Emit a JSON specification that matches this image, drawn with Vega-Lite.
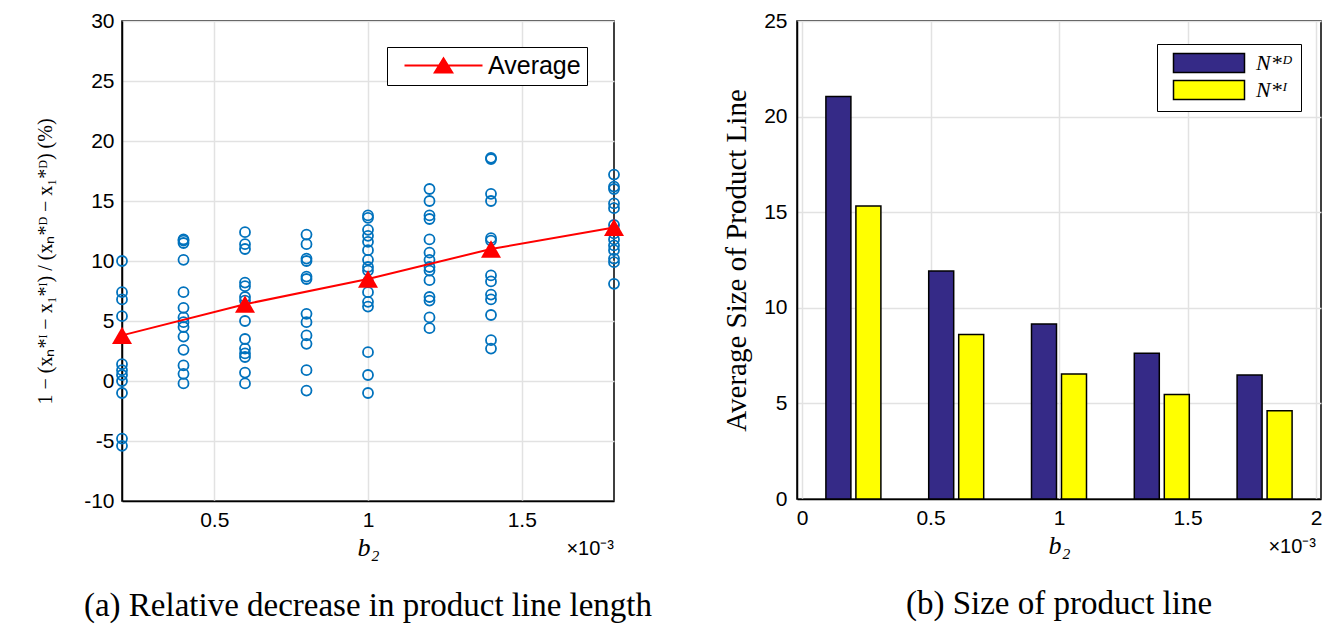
{
  "$schema": "https://vega.github.io/schema/vega-lite/v6.json",
  "background": "white",
  "padding": {"top": 9, "left": 34, "right": 0, "bottom": 0},
  "spacing": 64,
  "config": {
    "view": {"stroke": "black", "strokeWidth": 1.5},
    "axis": {
      "domainColor": "black", "domainWidth": 1.5,
      "gridColor": "#e2e2e2", "gridWidth": 1.5,
      "labelFont": "Liberation Sans", "labelFontSize": 21, "labelColor": "black",
      "titleFont": "Liberation Serif", "titleColor": "black", "titleFontWeight": "normal",
      "ticks": false, "labelFlush": false, "labelOverlap": false
    }
  },
  "resolve": {"scale": {"color": "independent"}, "legend": {"color": "independent"}},
  "datasets": {
    "scatter": [
      {"b2": 0.2, "v": 10.0}, {"b2": 0.2, "v": 7.4}, {"b2": 0.2, "v": 6.8}, {"b2": 0.2, "v": 5.4}, {"b2": 0.2, "v": 1.4}, {"b2": 0.2, "v": 0.9}, {"b2": 0.2, "v": 0.5}, {"b2": 0.2, "v": 0.0}, {"b2": 0.2, "v": -1.0}, {"b2": 0.2, "v": -4.8}, {"b2": 0.2, "v": -5.4},
      {"b2": 0.4, "v": 11.8}, {"b2": 0.4, "v": 11.7}, {"b2": 0.4, "v": 11.5}, {"b2": 0.4, "v": 10.1}, {"b2": 0.4, "v": 7.4}, {"b2": 0.4, "v": 6.1}, {"b2": 0.4, "v": 5.3}, {"b2": 0.4, "v": 4.9}, {"b2": 0.4, "v": 4.5}, {"b2": 0.4, "v": 3.7}, {"b2": 0.4, "v": 2.6}, {"b2": 0.4, "v": 1.3}, {"b2": 0.4, "v": 0.6}, {"b2": 0.4, "v": -0.2},
      {"b2": 0.6, "v": 12.4}, {"b2": 0.6, "v": 11.4}, {"b2": 0.6, "v": 11.0}, {"b2": 0.6, "v": 8.2}, {"b2": 0.6, "v": 7.9}, {"b2": 0.6, "v": 7.0}, {"b2": 0.6, "v": 6.7}, {"b2": 0.6, "v": 5.0}, {"b2": 0.6, "v": 3.5}, {"b2": 0.6, "v": 2.7}, {"b2": 0.6, "v": 2.3}, {"b2": 0.6, "v": 2.0}, {"b2": 0.6, "v": 0.7}, {"b2": 0.6, "v": -0.2},
      {"b2": 0.8, "v": 12.2}, {"b2": 0.8, "v": 11.4}, {"b2": 0.8, "v": 10.2}, {"b2": 0.8, "v": 10.0}, {"b2": 0.8, "v": 8.7}, {"b2": 0.8, "v": 8.5}, {"b2": 0.8, "v": 5.6}, {"b2": 0.8, "v": 4.9}, {"b2": 0.8, "v": 3.8}, {"b2": 0.8, "v": 3.1}, {"b2": 0.8, "v": 0.9}, {"b2": 0.8, "v": -0.8},
      {"b2": 1.0, "v": 13.8}, {"b2": 1.0, "v": 13.6}, {"b2": 1.0, "v": 12.6}, {"b2": 1.0, "v": 12.1}, {"b2": 1.0, "v": 11.6}, {"b2": 1.0, "v": 10.9}, {"b2": 1.0, "v": 10.1}, {"b2": 1.0, "v": 9.5}, {"b2": 1.0, "v": 9.2}, {"b2": 1.0, "v": 8.3}, {"b2": 1.0, "v": 7.4}, {"b2": 1.0, "v": 6.6}, {"b2": 1.0, "v": 6.2}, {"b2": 1.0, "v": 2.4}, {"b2": 1.0, "v": 0.5}, {"b2": 1.0, "v": -1.0},
      {"b2": 1.2, "v": 16.0}, {"b2": 1.2, "v": 15.0}, {"b2": 1.2, "v": 13.8}, {"b2": 1.2, "v": 13.5}, {"b2": 1.2, "v": 11.8}, {"b2": 1.2, "v": 10.7}, {"b2": 1.2, "v": 10.1}, {"b2": 1.2, "v": 9.5}, {"b2": 1.2, "v": 9.2}, {"b2": 1.2, "v": 8.4}, {"b2": 1.2, "v": 7.0}, {"b2": 1.2, "v": 6.7}, {"b2": 1.2, "v": 5.3}, {"b2": 1.2, "v": 4.4},
      {"b2": 1.4, "v": 18.6}, {"b2": 1.4, "v": 18.5}, {"b2": 1.4, "v": 15.6}, {"b2": 1.4, "v": 15.0}, {"b2": 1.4, "v": 11.9}, {"b2": 1.4, "v": 11.7}, {"b2": 1.4, "v": 8.8}, {"b2": 1.4, "v": 8.3}, {"b2": 1.4, "v": 7.2}, {"b2": 1.4, "v": 6.8}, {"b2": 1.4, "v": 5.5}, {"b2": 1.4, "v": 3.4}, {"b2": 1.4, "v": 2.7},
      {"b2": 1.8, "v": 17.2}, {"b2": 1.8, "v": 16.2}, {"b2": 1.8, "v": 16.0}, {"b2": 1.8, "v": 14.8}, {"b2": 1.8, "v": 14.4}, {"b2": 1.8, "v": 13.0}, {"b2": 1.8, "v": 12.6}, {"b2": 1.8, "v": 12.3}, {"b2": 1.8, "v": 11.8}, {"b2": 1.8, "v": 11.3}, {"b2": 1.8, "v": 10.9}, {"b2": 1.8, "v": 10.2}, {"b2": 1.8, "v": 9.9}, {"b2": 1.8, "v": 8.1}
    ],
    "avg": [
      {"b2": 0.2, "avg": 3.8}, {"b2": 0.6, "avg": 6.4}, {"b2": 1.0, "avg": 8.5}, {"b2": 1.4, "avg": 11.0}, {"b2": 1.8, "avg": 12.8}
    ],
    "bars": [
      {"b2": 0.2, "series": "D", "size": 21.05}, {"b2": 0.6, "series": "D", "size": 11.93}, {"b2": 1.0, "series": "D", "size": 9.15}, {"b2": 1.4, "series": "D", "size": 7.62}, {"b2": 1.8, "series": "D", "size": 6.48},
      {"b2": 0.2, "series": "I", "size": 15.33}, {"b2": 0.6, "series": "I", "size": 8.6}, {"b2": 1.0, "series": "I", "size": 6.54}, {"b2": 1.4, "series": "I", "size": 5.47}, {"b2": 1.8, "series": "I", "size": 4.61}
    ]
  },
  "hconcat": [
    {
      "width": 492, "height": 480,
      "title": {"text": "(a)  Relative decrease in product line length", "orient": "bottom", "frame": "group", "font": "Liberation Serif", "fontSize": 33, "fontWeight": "normal", "color": "black", "offset": 30},
      "layer": [
        {
          "data": {"name": "scatter"},
          "mark": {"type": "point", "shape": "circle", "filled": false, "stroke": "#0072bd", "strokeWidth": 1.8, "size": 100, "opacity": 1},
          "encoding": {
            "x": {"field": "b2", "type": "quantitative", "scale": {"domain": [0.2, 1.8], "nice": false, "zero": false},
                  "axis": {"values": [0.5, 1, 1.5], "format": "~g", "grid": true, "title": "b₂", "titleFontSize": 26, "titleFontStyle": "italic", "labelPadding": 8, "titlePadding": 4}},
            "y": {"field": "v", "type": "quantitative", "scale": {"domain": [-10, 30], "nice": false},
                  "axis": {"values": [-10, -5, 0, 5, 10, 15, 20, 25, 30], "labelExpr": "'' + datum.value", "grid": true, "labelPadding": 8, "title": "1 − (xₙ*ᴵ − x₁*ᴵ) / (xₙ*ᴰ − x₁*ᴰ)  (%)", "titleFontSize": 20, "titlePadding": 28}}
          }
        },
        {
          "data": {"name": "avg"},
          "mark": {"type": "line", "color": "#ff0000", "strokeWidth": 2},
          "encoding": {
            "x": {"field": "b2", "type": "quantitative"},
            "y": {"field": "avg", "type": "quantitative"}
          }
        },
        {
          "data": {"name": "avg"},
          "mark": {"type": "point", "shape": "triangle-up", "filled": true, "size": 400, "opacity": 1},
          "encoding": {
            "x": {"field": "b2", "type": "quantitative"},
            "y": {"field": "avg", "type": "quantitative"},
            "color": {"datum": "Average", "type": "nominal", "scale": {"domain": ["Average"], "range": ["#ff0000"]},
              "legend": {"title": null, "orient": "none", "legendX": 265, "legendY": 26, "padding": 6,
                "strokeColor": "black", "fillColor": "white",
                "symbolType": "M-3.9,-0.1H3.9V0.1H-3.9ZM0,-0.9L1.05,0.8L-1.05,0.8Z", "symbolSize": 400, "symbolOffset": 38,
                "labelOffset": 32, "labelFont": "Liberation Sans", "labelFontSize": 25, "labelColor": "black",
                "encode": {"symbols": {"update": {"fill": {"value": "#ff0000"}, "stroke": {"value": "#ff0000"}, "strokeWidth": {"value": 0.5}, "opacity": {"value": 1}}},
                           "legend": {"update": {"strokeWidth": {"value": 1.5}}}}}}
          }
        },
        {
          "data": {"values": [{}]},
          "mark": {"type": "text", "align": "right", "baseline": "top", "dy": 38, "font": "Liberation Sans", "fontSize": 20, "color": "black"},
          "encoding": {
            "x": {"datum": 1.8, "type": "quantitative"},
            "y": {"datum": -10, "type": "quantitative"},
            "text": {"value": "×10⁻³"}
          }
        }
      ]
    },
    {
      "width": 524, "height": 478,
      "title": {"text": "(b)  Size of product line", "orient": "bottom", "frame": "group", "font": "Liberation Serif", "fontSize": 33, "fontWeight": "normal", "color": "black", "offset": 30},
      "layer": [
        {
          "data": {"name": "bars"},
          "transform": [{"filter": "datum.series == 'D'"}],
          "mark": {"type": "bar", "width": 25, "xOffset": -15, "stroke": "black", "strokeWidth": 1.5},
          "encoding": {
            "x": {"field": "b2", "type": "quantitative", "scale": {"domain": [0, 2], "nice": false, "zero": false},
                  "axis": {"values": [0, 0.5, 1, 1.5, 2], "format": "~g", "grid": true, "title": "b₂", "titleFontSize": 26, "titleFontStyle": "italic", "labelPadding": 8, "titlePadding": 4}},
            "y": {"field": "size", "type": "quantitative", "scale": {"domain": [0, 25], "nice": false},
                  "axis": {"values": [0, 5, 10, 15, 20, 25], "grid": true, "labelPadding": 10, "title": "Average Size of Product Line", "titleFontSize": 29, "titlePadding": 12}},
            "color": {"datum": "N*ᴰ", "type": "nominal", "scale": {"domain": ["N*ᴰ", "N*ᴵ"], "range": ["#352a87", "#ffff00"]},
              "legend": {"title": null, "orient": "none", "legendX": 360, "legendY": 23, "padding": 8,
                "strokeColor": "black", "fillColor": "white",
                "symbolType": "M-3.55,-0.95H3.55V0.95H-3.55Z", "symbolSize": 400, "symbolOffset": 33,
                "labelOffset": 36, "labelFont": "Liberation Serif", "labelFontStyle": "italic", "labelFontSize": 22, "labelColor": "black", "rowPadding": 1,
                "encode": {"symbols": {"update": {"stroke": {"value": "black"}, "strokeWidth": {"value": 1.5}, "opacity": {"value": 1}}},
                           "legend": {"update": {"strokeWidth": {"value": 1.5}}}}}}
          }
        },
        {
          "data": {"name": "bars"},
          "transform": [{"filter": "datum.series == 'I'"}],
          "mark": {"type": "bar", "width": 25, "xOffset": 15, "stroke": "black", "strokeWidth": 1.5},
          "encoding": {
            "x": {"field": "b2", "type": "quantitative"},
            "y": {"field": "size", "type": "quantitative"},
            "color": {"datum": "N*ᴵ", "type": "nominal"}
          }
        },
        {
          "data": {"values": [{}]},
          "mark": {"type": "text", "align": "right", "baseline": "top", "dy": 38, "font": "Liberation Sans", "fontSize": 20, "color": "black"},
          "encoding": {
            "x": {"datum": 2, "type": "quantitative"},
            "y": {"datum": 0, "type": "quantitative"},
            "text": {"value": "×10⁻³"}
          }
        }
      ]
    }
  ]
}
